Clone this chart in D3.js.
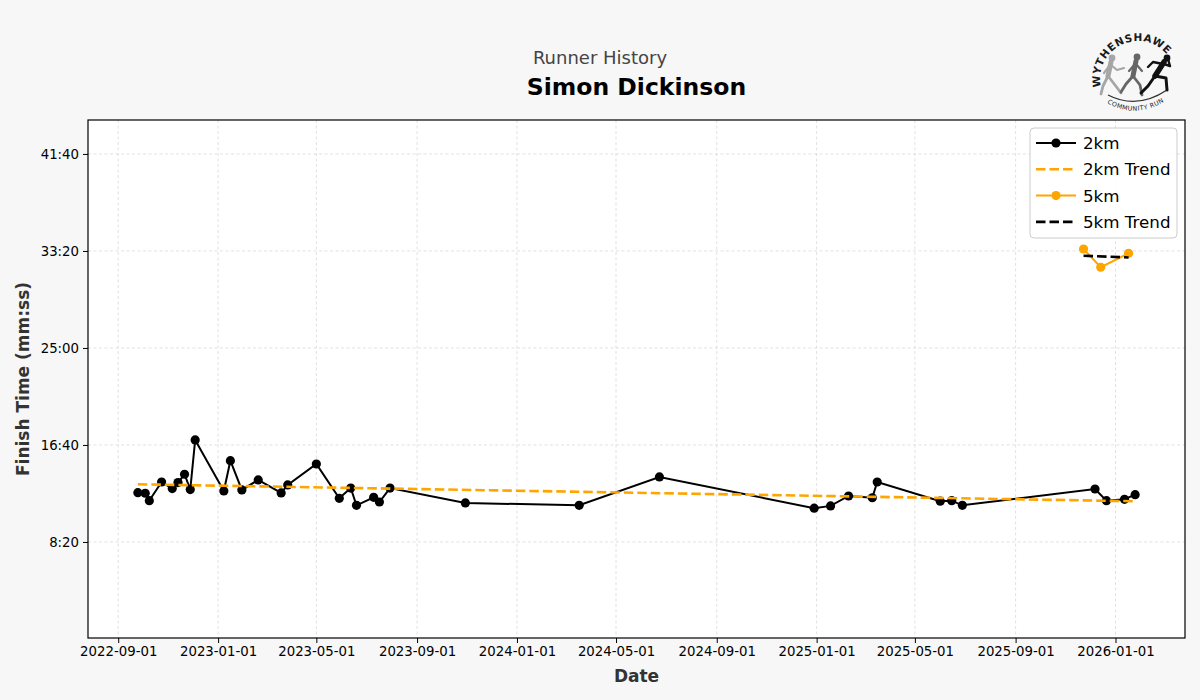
<!DOCTYPE html>
<html><head><meta charset="utf-8">
<script src="https://cdn.jsdelivr.net/npm/d3@7"></script>
<style>
html,body{margin:0;padding:0;background:#f7f7f7;}
svg{display:block;font-family:"DejaVu Sans",sans-serif;}
</style></head>
<body><svg id="chart" width="1200" height="700"></svg>
<script>
// ---- data ----
const dates2k = ["2022-09-25","2022-10-04","2022-10-09","2022-10-24","2022-11-06","2022-11-13","2022-11-21","2022-11-28","2022-12-04",
"2023-01-08","2023-01-16","2023-01-30","2023-02-19","2023-03-19","2023-03-27","2023-05-01","2023-05-29","2023-06-12","2023-06-19",
"2023-07-10","2023-07-17","2023-07-30","2023-10-30","2024-03-17","2024-06-23","2024-12-29","2025-01-18","2025-02-09","2025-03-10",
"2025-03-16","2025-06-01","2025-06-15","2025-06-28","2025-12-07","2025-12-21","2026-01-12","2026-01-25"];
const times2k = ["12:34","12:31","11:53","13:29","12:55","13:26","14:09","12:50","17:06",
"12:43","15:19","12:48","13:40","12:33","13:14","15:02","12:05","12:58","11:29",
"12:10","11:46","12:58","11:41","11:29","13:55","11:14","11:26","12:17","12:08",
"13:29","11:50","11:53","11:29","12:53","11:53","12:00","12:24"];
const dates5k = ["2025-11-23","2025-12-14","2026-01-17"];
const times5k = ["33:30","31:56","33:08"];
const yTickSeconds = [500,1000,1500,2000,2500];
const xTickDates = ["2022-09-01","2023-01-01","2023-05-01","2023-09-01","2024-01-01","2024-05-01","2024-09-01","2025-01-01","2025-05-01","2025-09-01","2026-01-01"];
const yLimits = [5, 2675];

// ---- helpers ----
const parse = d3.utcParse("%Y-%m-%d");
const toSec = s => { const [m, ss] = s.split(":").map(Number); return m*60+ss; };
const fmt = s => { const m = Math.floor(s/60), ss = Math.round(s%60); return m + ":" + String(ss).padStart(2,"0"); };
const s2k = dates2k.map((d,i)=>({date:parse(d), t:toSec(times2k[i])}));
const s5k = dates5k.map((d,i)=>({date:parse(d), t:toSec(times5k[i])}));

function trend(pts){
  const xs = pts.map(p=>+p.date), ys = pts.map(p=>p.t);
  const mx = d3.mean(xs), my = d3.mean(ys);
  let num=0, den=0;
  xs.forEach((x,i)=>{num+=(x-mx)*(ys[i]-my); den+=(x-mx)*(x-mx);});
  const b = num/den, a = my - b*mx;
  const first = pts[0].date, last = pts[pts.length-1].date;
  return [{date:first, t:a+b*(+first)},{date:last, t:a+b*(+last)}];
}

const svg = d3.select("#chart");
const m = {left:88, right:1185, top:120, bottom:638};

const all = s2k.concat(s5k);
const ext = d3.extent(all, d=>+d.date);
const pad = (ext[1]-ext[0])*0.05;
const x = d3.scaleUtc().domain([new Date(ext[0]-pad), new Date(ext[1]+pad)]).range([m.left, m.right]);
const y = d3.scaleLinear().domain(yLimits).range([m.bottom, m.top]);

svg.append("rect").attr("x",m.left).attr("y",m.top).attr("width",m.right-m.left).attr("height",m.bottom-m.top).attr("fill","#fff");

const grid = svg.append("g");
xTickDates.forEach(d=>{
  grid.append("line").attr("x1",x(parse(d))).attr("x2",x(parse(d))).attr("y1",m.top).attr("y2",m.bottom)
   .attr("stroke","#d9d9d9").attr("stroke-width",0.8).attr("stroke-dasharray","3,2.5");
});
yTickSeconds.forEach(t=>{
  grid.append("line").attr("x1",m.left).attr("x2",m.right).attr("y1",y(t)).attr("y2",y(t))
   .attr("stroke","#d9d9d9").attr("stroke-width",0.8).attr("stroke-dasharray","3,2.5");
});

const defs = svg.append("defs");
defs.append("clipPath").attr("id","clip").append("rect")
  .attr("x",m.left).attr("y",m.top).attr("width",m.right-m.left).attr("height",m.bottom-m.top);
const plot = svg.append("g").attr("clip-path","url(#clip)");
const line = d3.line().x(d=>x(d.date)).y(d=>y(d.t));

plot.append("path").datum(s2k).attr("d",line).attr("fill","none").attr("stroke","#000").attr("stroke-width",2);
plot.selectAll(".p2").data(s2k).enter().append("circle").attr("cx",d=>x(d.date)).attr("cy",d=>y(d.t)).attr("r",4.6).attr("fill","#000");
plot.append("path").datum(trend(s2k)).attr("d",line).attr("fill","none").attr("stroke","#FFA500").attr("stroke-width",2.6).attr("stroke-dasharray","9.5,4");
plot.append("path").datum(s5k).attr("d",line).attr("fill","none").attr("stroke","#FFA500").attr("stroke-width",2);
plot.selectAll(".p5").data(s5k).enter().append("circle").attr("cx",d=>x(d.date)).attr("cy",d=>y(d.t)).attr("r",4.6).attr("fill","#FFA500");
plot.append("path").datum(trend(s5k)).attr("d",line).attr("fill","none").attr("stroke","#000").attr("stroke-width",2.6).attr("stroke-dasharray","9.5,4");

const xAxis = d3.axisBottom(x).tickValues(xTickDates.map(parse)).tickFormat(d3.utcFormat("%Y-%m-%d")).tickSizeOuter(0).tickSize(5).tickPadding(4);
const gx = svg.append("g").attr("transform",`translate(0,${m.bottom})`).call(xAxis);
const yAxis = d3.axisLeft(y).tickValues(yTickSeconds).tickFormat(fmt).tickSizeOuter(0).tickSize(5).tickPadding(4);
const gy = svg.append("g").attr("transform",`translate(${m.left},0)`).call(yAxis);
[gx,gy].forEach(g=>{
  g.attr("font-size",null).attr("font-family",null);
  g.select(".domain").remove();
  g.selectAll(".tick line").attr("stroke","#000").attr("stroke-width",1);
  g.selectAll(".tick text").attr("fill","#000").style("font-size","13.3px").style("font-family","DejaVu Sans");
});

svg.append("rect").attr("x",m.left).attr("y",m.top).attr("width",m.right-m.left).attr("height",m.bottom-m.top)
  .attr("fill","none").attr("stroke","#000").attr("stroke-width",1.2);

svg.append("text").attr("x",(m.left+m.right)/2).attr("y",682).attr("text-anchor","middle")
  .style("font-size","17px").style("font-weight","bold").attr("fill","#333").text("Date");
svg.append("text").attr("transform",`translate(29,${(m.top+m.bottom)/2}) rotate(-90)`).attr("text-anchor","middle")
  .style("font-size","17px").style("font-weight","bold").attr("fill","#333").text("Finish Time (mm:ss)");
svg.append("text").attr("x",600).attr("y",64).attr("text-anchor","middle").style("font-size","18px").attr("fill","#444").text("Runner History");
svg.append("text").attr("x",(m.left+m.right)/2).attr("y",95).attr("text-anchor","middle").style("font-size","23.5px").style("font-weight","bold").attr("fill","#000").text("Simon Dickinson");

const lg = svg.append("g").attr("transform","translate(1030,128)");
lg.append("rect").attr("width",147).attr("height",110).attr("rx",4).attr("fill","#fff").attr("fill-opacity",0.85).attr("stroke","#ccc");
const items = [
  {label:"2km", color:"#000", dash:null, marker:true},
  {label:"2km Trend", color:"#FFA500", dash:"9.5,4", marker:false},
  {label:"5km", color:"#FFA500", dash:null, marker:true},
  {label:"5km Trend", color:"#000", dash:"9.5,4", marker:false}
];
items.forEach((it,i)=>{
  const yy = 15 + i*26.3;
  lg.append("line").attr("x1",6).attr("x2",46).attr("y1",yy).attr("y2",yy).attr("stroke",it.color)
    .attr("stroke-width",it.dash?2.6:2).attr("stroke-dasharray",it.dash);
  if(it.marker) lg.append("circle").attr("cx",26).attr("cy",yy).attr("r",4.6).attr("fill",it.color);
  lg.append("text").attr("x",53).attr("y",yy+6).style("font-size","16.7px").attr("fill","#000").text(it.label);
});

// logo (Wythenshawe Community Run)
const logo = svg.append("g");
const cx = 1138, cy = 79, rr = 38;
const ang = a => [cx + rr*Math.cos(a*Math.PI/180), cy + rr*Math.sin(a*Math.PI/180)];
const p0 = ang(168), p1 = ang(322);
defs.append("path").attr("id","arcTop").attr("d",`M ${p0[0]},${p0[1]} A ${rr} ${rr} 0 0 1 ${p1[0]},${p1[1]}`);
defs.append("path").attr("id","arcBot").attr("d","M 1107,103 Q 1138,121 1171,97");
logo.append("text").style("font-size","10.5px").style("font-weight","bold").attr("fill","#1a1a1a")
  .append("textPath").attr("href","#arcTop").attr("textLength",100).attr("lengthAdjust","spacing").text("WYTHENSHAWE");
logo.append("path").attr("d","M 1108,95 Q 1137,110 1167,90").attr("fill","none").attr("stroke","#333").attr("stroke-width",1.3);
logo.append("text").style("font-size","6.3px").attr("fill","#222")
  .append("textPath").attr("href","#arcBot").attr("textLength",60).attr("lengthAdjust","spacing").text("COMMUNITY RUN");
function figure(color, head, paths){
  const g = logo.append("g").attr("stroke",color).attr("fill","none").attr("stroke-linecap","round").attr("stroke-linejoin","round");
  g.append("circle").attr("cx",head[0]).attr("cy",head[1]).attr("r",3.4).attr("fill",color).attr("stroke","none");
  paths.forEach(p=>g.append("path").attr("d",p[0]).attr("stroke-width",p[1]));
}
figure("#a6a6a6",[1112,58],[["M1111,62 L1108,76",5],["M1110,65 L1104,73",2.2],["M1111,65 L1117,70 L1124,68",2.2],["M1108,76 L1103,86 L1101,94",2.8],["M1108,76 L1115,85 L1121,93",2.8]]);
figure("#666666",[1137,57],[["M1136,61 L1133,76",5],["M1135,64 L1129,71",2.2],["M1136,64 L1142,71",2.2],["M1133,76 L1126,84 L1121,92",2.8],["M1133,76 L1140,85 L1142,95",2.8]]);
figure("#111111",[1167,58],[["M1164,62 L1155,76",5.5],["M1163,64 L1153,62 L1148,67",2.4],["M1164,64 L1170,66 L1168,59",2.4],["M1155,76 L1148,86 L1141,93",3],["M1155,76 L1166,78 L1167,90",3]]);
</script></body></html>
